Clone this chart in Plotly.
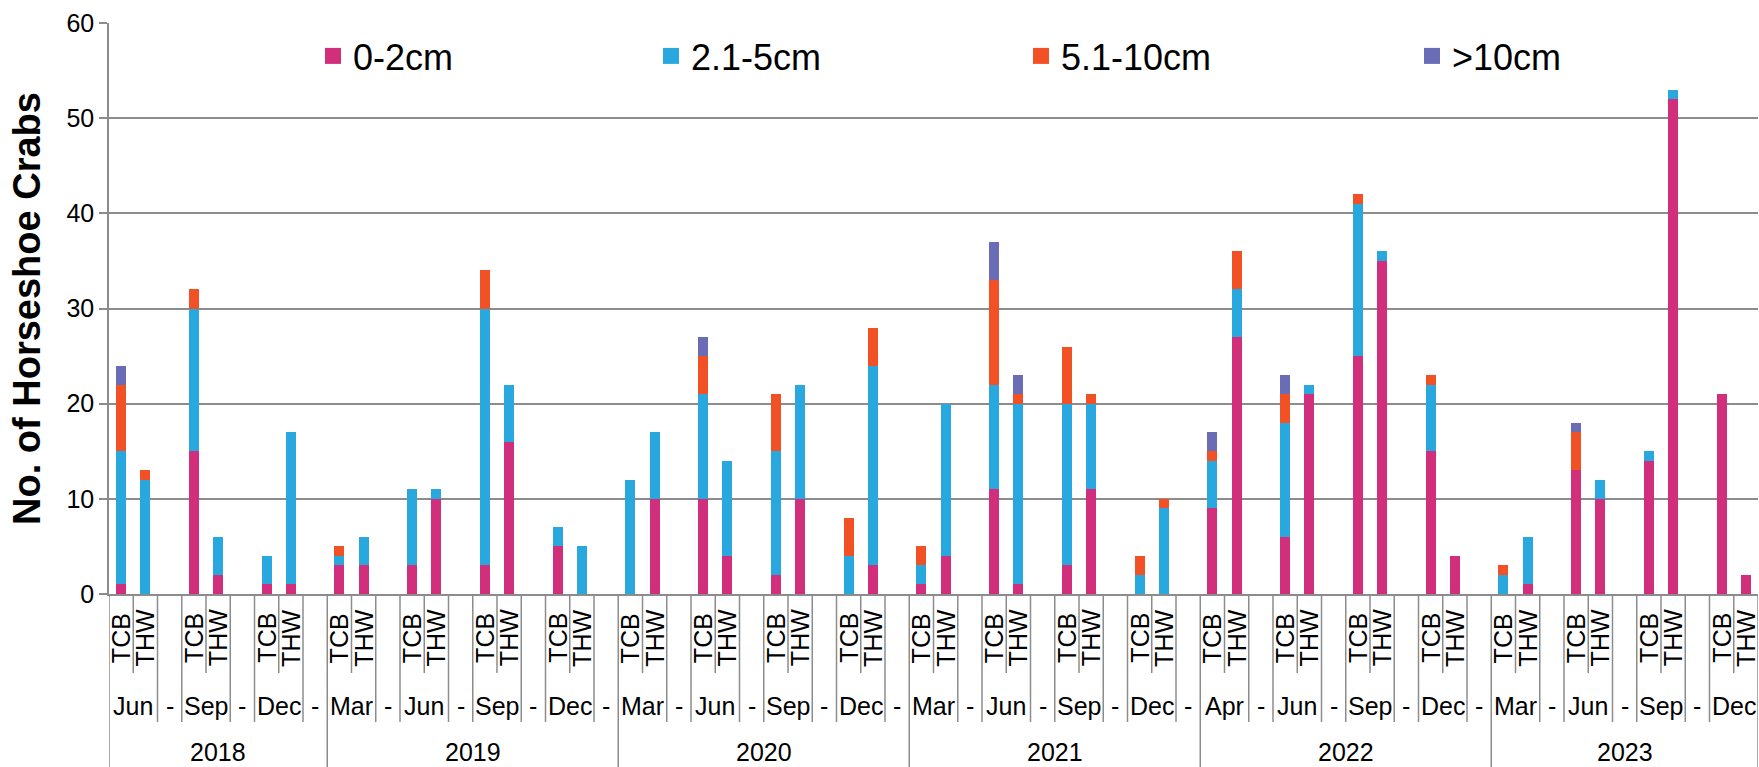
import plotly.graph_objects as go

# ---------------- data ----------------
period_year = ['2018', '2018', '2018',
               '2019', '2019', '2019', '2019',
               '2020', '2020', '2020', '2020',
               '2021', '2021', '2021', '2021',
               '2022', '2022', '2022', '2022',
               '2023', '2023', '2023', '2023']
period_month = ['Jun', 'Sep', 'Dec',
                'Mar', 'Jun', 'Sep', 'Dec',
                'Mar', 'Jun', 'Sep', 'Dec',
                'Mar', 'Jun', 'Sep', 'Dec',
                'Apr', 'Jun', 'Sep', 'Dec',
                'Mar', 'Jun', 'Sep', 'Dec']
sites = ['TCB', 'THW']
separator_label = '-'

series_names = ['0-2cm', '2.1-5cm', '5.1-10cm', '>10cm']
series_colors = ['#D12E7C', '#29A8E0', '#F15125', '#6A6DB5']

# values per bar, in order (TCB, THW) for each period
size_0_2 = [1, 0, 15, 2, 1, 1,
            3, 3, 3, 10, 3, 16, 5, 0,
            0, 10, 10, 4, 2, 10, 0, 3,
            1, 4, 11, 1, 3, 11, 0, 0,
            9, 27, 6, 21, 25, 35, 15, 4,
            0, 1, 13, 10, 14, 52, 21, 2]
size_2_5 = [14, 12, 15, 4, 3, 16,
            1, 3, 8, 1, 27, 6, 2, 5,
            12, 7, 11, 10, 13, 12, 4, 21,
            2, 16, 11, 19, 17, 9, 2, 9,
            5, 5, 12, 1, 16, 1, 7, 0,
            2, 5, 0, 2, 1, 1, 0, 0]
size_5_10 = [7, 1, 2, 0, 0, 0,
             1, 0, 0, 0, 4, 0, 0, 0,
             0, 0, 4, 0, 6, 0, 4, 4,
             2, 0, 11, 1, 6, 1, 2, 1,
             1, 4, 3, 0, 1, 0, 1, 0,
             1, 0, 4, 0, 0, 0, 0, 0]
size_over_10 = [2, 0, 0, 0, 0, 0,
                0, 0, 0, 0, 0, 0, 0, 0,
                0, 0, 2, 0, 0, 0, 0, 0,
                0, 0, 4, 2, 0, 0, 0, 0,
                2, 0, 2, 0, 0, 0, 0, 0,
                0, 0, 1, 0, 0, 0, 0, 0]
series_values = [size_0_2, size_2_5, size_5_10, size_over_10]

y_ticks = [0, 10, 20, 30, 40, 50, 60]

# ---------------- category layout ----------------
bar_pos = []            # slot index for each bar
site_labels = []        # (pos, text)
month_labels = []       # (center, text)
year_spans = {}         # year -> [first, last]
bounds = {}             # x boundary -> level (1 site, 2 month, 3 year)

def add_bound(x, lvl):
    bounds[x] = max(bounds.get(x, 0), lvl)

pos = 0
n_per = len(period_month)
for i in range(n_per):
    yr = period_year[i]
    span = year_spans.setdefault(yr, [pos, pos])
    add_bound(pos - 0.5, 2)
    for s in sites:
        bar_pos.append(pos)
        site_labels.append((pos, s))
        pos += 1
    add_bound(pos - 1.5, 1)
    add_bound(pos - 0.5, 2)
    month_labels.append((pos - 1.5, period_month[i]))
    if i < n_per - 1:
        month_labels.append((pos, separator_label))
        pos += 1
        add_bound(pos - 0.5, 2)
    span[1] = pos - 1
n_slots = pos
for yr, (a, b) in year_spans.items():
    add_bound(a - 0.5, 3)
    add_bound(b + 0.5, 3)

# ---------------- geometry (pixels) ----------------
W, H = 1759, 767
M_L, M_R, M_T, M_B = 109, 1, 23, 173
plot_h = H - M_T - M_B
base_px = H - M_B

def py(y_px):
    return (base_px - y_px) / plot_h

def px_x(x_px):
    return (x_px - M_L) / (W - M_L - M_R)

level_bottom = {1: py(673), 2: py(722), 3: py(H + 2)}
GRID = '#8C8C8C'
FONT = 'Liberation Sans, Arial, sans-serif'

fig = go.Figure()
for name, color, vals in zip(series_names, series_colors, series_values):
    fig.add_trace(go.Bar(x=bar_pos, y=vals, name=name, marker_color=color,
                         marker_line_width=0, width=0.42, showlegend=False))

legend_x = [px_x(313), px_x(651), px_x(1021), px_x(1412)]
legend_keys = ['legend', 'legend2', 'legend3', 'legend4']
for name, color, key in zip(series_names, series_colors, legend_keys):
    fig.add_trace(go.Scatter(x=[None], y=[None], mode='markers', name=name,
                             marker=dict(symbol='square', size=17, color=color),
                             legend=key, showlegend=True))

legend_common = dict(orientation='h', yanchor='middle', y=py(56), xanchor='left',
                     bgcolor='rgba(0,0,0,0)', font=dict(family=FONT, size=36, color='black'))
fig.update_layout(**{k: dict(x=lx, **legend_common) for k, lx in zip(legend_keys, legend_x)})

shapes = []
for x, lvl in bounds.items():
    shapes.append(dict(type='line', xref='x', yref='paper', x0=x, x1=x,
                       y0=0, y1=level_bottom[lvl], line=dict(color=GRID, width=1.5)))

annotations = []
for p, t in site_labels:
    annotations.append(dict(x=p, y=py(638), xref='x', yref='paper', text=t, showarrow=False,
                            textangle=-90, xanchor='center', yanchor='middle',
                            font=dict(family=FONT, size=25, color='black')))
for c, t in month_labels:
    annotations.append(dict(x=c, y=py(706), xref='x', yref='paper', text=t, showarrow=False,
                            xanchor='center', yanchor='middle',
                            font=dict(family=FONT, size=25, color='black')))
for yr, (a, b) in year_spans.items():
    annotations.append(dict(x=(a + b) / 2, y=py(752), xref='x', yref='paper', text=yr,
                            showarrow=False, xanchor='center', yanchor='middle',
                            font=dict(family=FONT, size=25, color='black')))

fig.update_layout(
    width=W, height=H,
    margin=dict(l=M_L, r=M_R, t=M_T, b=M_B),
    plot_bgcolor='white', paper_bgcolor='white',
    barmode='stack',
    font=dict(family=FONT, color='black'),
    xaxis=dict(range=[-0.5, n_slots - 0.5], showticklabels=False, showgrid=False,
               zeroline=False, showline=True, linecolor=GRID, linewidth=1.5, ticks=''),
    yaxis=dict(range=[0, 60], tickvals=y_ticks, showgrid=True, gridcolor=GRID, gridwidth=1.5,
               ticks='outside', ticklen=8, tickcolor=GRID, tickwidth=1.5,
               showline=True, linecolor=GRID, linewidth=1.5, zeroline=False,
               tickfont=dict(family=FONT, size=25, color='black'),
               title=dict(text='No. of Horseshoe Crabs', standoff=14,
                          font=dict(family=FONT, size=38, color='black', weight='bold'))),
    shapes=shapes,
    annotations=annotations,
)

fig.write_html('out.html', config={'displayModeBar': False},
               post_script="document.body.style.margin='0';document.body.style.overflow='hidden';")
